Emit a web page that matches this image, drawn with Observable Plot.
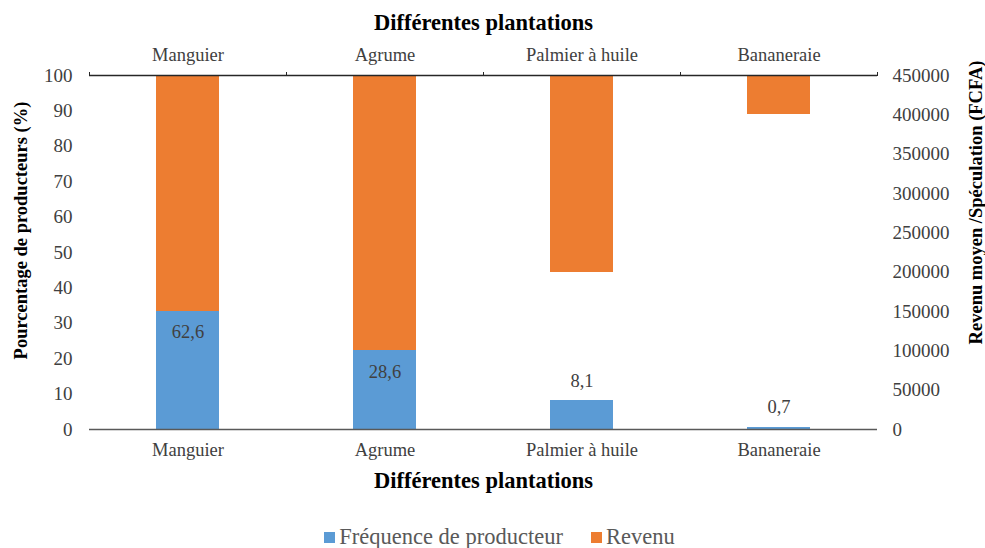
<!DOCTYPE html>
<html>
<head>
<meta charset="utf-8">
<script src="https://cdn.jsdelivr.net/npm/d3@7"></script>
<script src="https://cdn.jsdelivr.net/npm/@observablehq/plot@0.6"></script>
<style>
  body { margin: 0; background: #fff; overflow: hidden; }
  #chart svg { font-family: 'Liberation Serif', serif; font-size: 18px; color: #404040; background: #fff; }
  #legend {
    display: flex; justify-content: center; align-items: center; gap: 28px;
    height: 33px; padding: 11px 0 0 14px; box-sizing: border-box;
    font-family: 'Liberation Serif', serif; font-size: 22.5px; line-height: 22px; color: #595959;
  }
  #legend .item { display: flex; align-items: center; gap: 4px; }
  #legend .sw { width: 11px; height: 11px; display: inline-block; }
</style>
</head>
<body>
<div id="chart"></div>
<div id="legend"></div>
<script>
// Plantations and their two series
const categories = ["Manguier", "Agrume", "Palmier à huile", "Bananeraie"];
const frequence = [62.6, 28.6, 8.1, 0.7];          // % of producers
const revenu = [150000, 100000, 200000, 400000];    // average income (FCFA)

// Axis ticks
const pctTicks = [0, 10, 20, 30, 40, 50, 60, 70, 80, 90, 100];
const revenuTicks = [0, 50000, 100000, 150000, 200000, 250000, 300000, 350000, 400000, 450000];

const pctMax = 100;
const revenuMax = 450000;
const k = revenuMax / pctMax; // secondary-axis factor

const blue = "#5B9BD5";
const orange = "#ED7D31";

const rows = categories.map((c, i) => ({
  c, i, f: frequence[i], r: revenu[i], rp: revenu[i] / k
}));
const centers = rows.map(d => d.i + 0.5);
const bounds = [...rows.map(d => d.i), rows.length];
const fmt = v => String(v).replace(".", ",");
const inset = 67;

const chart = Plot.plot({
  width: 985,
  height: 515,
  marginLeft: 89,
  marginRight: 108,
  marginTop: 75,
  marginBottom: 86,
  x: { domain: [0, rows.length], axis: null },
  y: { domain: [0, pctMax], axis: null },
  marks: [
    // frequency bars (primary axis)
    Plot.rectY(rows, { x1: d => d.i, x2: d => d.i + 1, y1: 0, y2: "f", fill: blue, insetLeft: inset, insetRight: inset, shapeRendering: "crispEdges" }),
    // income bars hanging from the secondary axis top
    Plot.rectY(rows, { x1: d => d.i, x2: d => d.i + 1, y1: "rp", y2: pctMax, fill: orange, insetLeft: inset, insetRight: inset, shapeRendering: "crispEdges" }),
    Plot.ruleY([0], { stroke: "#595959", strokeWidth: 1.3 }),
    Plot.ruleY([pctMax], { stroke: "#262626", strokeWidth: 1.3 }),
    // left axis
    Plot.axisY(pctTicks, { anchor: "left", tickSize: 0, tickPadding: 17, label: null, fontSize: 19 }),
    // right axis (income)
    Plot.axisY(revenuTicks.map(v => v / k), {
      anchor: "right", tickSize: 0, tickPadding: 15, label: null, fontSize: 19,
      tickFormat: v => String(Math.round(v * k))
    }),
    // category labels, bottom and top
    Plot.axisX(centers, { anchor: "bottom", tickSize: 0, tickPadding: 13, label: null, fontSize: 18.5, tickFormat: v => categories[Math.floor(v)] }),
    Plot.axisX(centers, { anchor: "top", tickSize: 0, tickPadding: 15, label: null, fontSize: 18.5, tickFormat: v => categories[Math.floor(v)] }),
    // boundary ticks on the top axis
    Plot.axisX(bounds, { anchor: "top", tickSize: 4, stroke: "#262626", label: null, tickFormat: () => "" }),
    // value labels
    Plot.text(rows.filter(d => d.f > d.rp), { x: d => d.i + 0.5, y: "rp", text: d => fmt(d.f), dy: 21, fill: "#404040", fontSize: 18.5 }),
    Plot.text(rows.filter(d => d.f <= d.rp), { x: d => d.i + 0.5, y: "f", text: d => fmt(d.f), dy: -20, fill: "#404040", fontSize: 18.5 }),
    // titles
    Plot.text(["Différentes plantations"], { frameAnchor: "top", lineAnchor: "middle", dy: -53, fontWeight: "bold", fontSize: 22.5, fill: "black" }),
    Plot.text(["Différentes plantations"], { frameAnchor: "bottom", lineAnchor: "middle", dy: 51, fontWeight: "bold", fontSize: 22.5, fill: "black" }),
    Plot.text(["Pourcentage de producteurs (%)"], { frameAnchor: "left", textAnchor: "middle", dx: -68, dy: -22, rotate: -90, fontWeight: "bold", fontSize: 18.5, fill: "black" }),
    Plot.text(["Revenu moyen /Spéculation (FCFA)"], { frameAnchor: "right", textAnchor: "middle", dx: 99, dy: -50, rotate: -90, fontWeight: "bold", fontSize: 18.5, fill: "black" })
  ]
});
document.getElementById("chart").appendChild(chart);

// legend
const legend = d3.select("#legend");
[["Fréquence de producteur", blue], ["Revenu", orange]].forEach(([label, color]) => {
  const item = legend.append("span").attr("class", "item");
  item.append("span").attr("class", "sw").style("background", color);
  item.append("span").text(label);
});
</script>
</body>
</html>
